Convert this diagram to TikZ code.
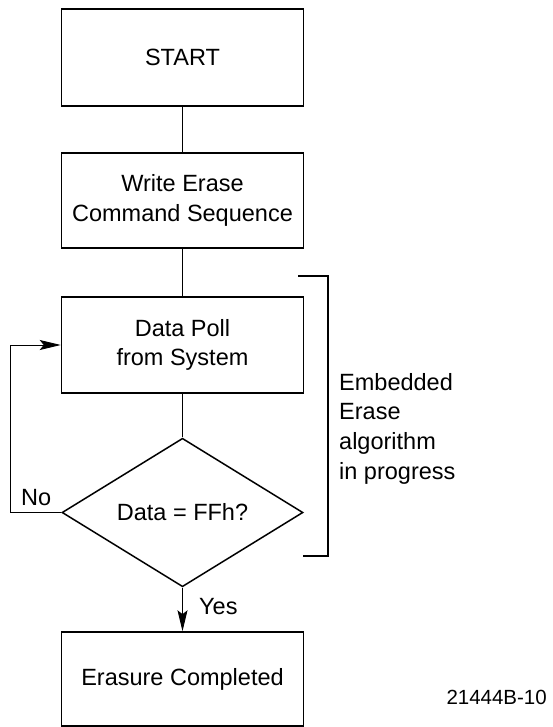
\documentclass[tikz,border=0pt]{standalone}
\usepackage{fontspec}
\setmainfont{Liberation Sans}
\usetikzlibrary{shapes.geometric,arrows.meta}
\begin{document}
\begin{tikzpicture}[x=1pt,y=-1pt,
  box/.style={draw,line width=1.5pt,minimum width=242pt,inner sep=0pt,align=center,font=\fontsize{23.5}{29.5}\selectfont},
  dec/.style={draw,diamond,line width=1.5pt,minimum width=241pt,minimum height=143pt,inner sep=0pt,font=\fontsize{23.5}{29}\selectfont},
  conn/.style={line width=0.9pt},
  arr/.style={line width=0.9pt,-{Stealth[length=21pt,width=10pt,inset=4pt]}},
  lbl/.style={font=\fontsize{23.5}{29}\selectfont,inner sep=0pt}]
\useasboundingbox (0,0) rectangle (552,727);
\node[box,minimum height=97pt] (start) at (182.5,57.5) {START};
\node[box,minimum height=95pt] (write) at (182.5,200.5) {Write Erase\\Command Sequence};
\node[box,minimum height=96pt] (poll) at (182.5,345) {Data Poll\\from System};
\node[dec] (dec) at (182.5,512.5) {Data = FFh?};
\node[box,minimum height=94pt] (done) at (182.5,679) {Erasure Completed};
\draw[conn] (start) -- (write);
\draw[conn] (write) -- (poll);
\draw[conn] (poll) -- (dec);
\draw[arr] (dec.south) -- (done.north);
\coordinate (lb) at (10,512.5);
\coordinate (lt) at (10,345);
\draw[arr] (dec.west) -- (lb) -- (lt) -- (poll.west);
\node[lbl,anchor=west] (no) at (21,498) {No};
\node[lbl,anchor=west] (yes) at (199,607) {Yes};
\coordinate (bt0) at (298,276);
\coordinate (bt1) at (328,276);
\coordinate (bb1) at (328,556);
\coordinate (bb0) at (303,556);
\draw[line width=1.5pt] (bt0) -- (bt1) -- (bb1) -- (bb0);
\node[lbl,anchor=north west,align=left,font=\fontsize{23.5}{29.7}\selectfont] (emb) at (339,373) {Embedded\\Erase\\algorithm\\in progress};
\node[lbl,anchor=east,font=\fontsize{20.5}{24}\selectfont] (fig) at (547,697) {21444B-10};
\end{tikzpicture}
\end{document}
